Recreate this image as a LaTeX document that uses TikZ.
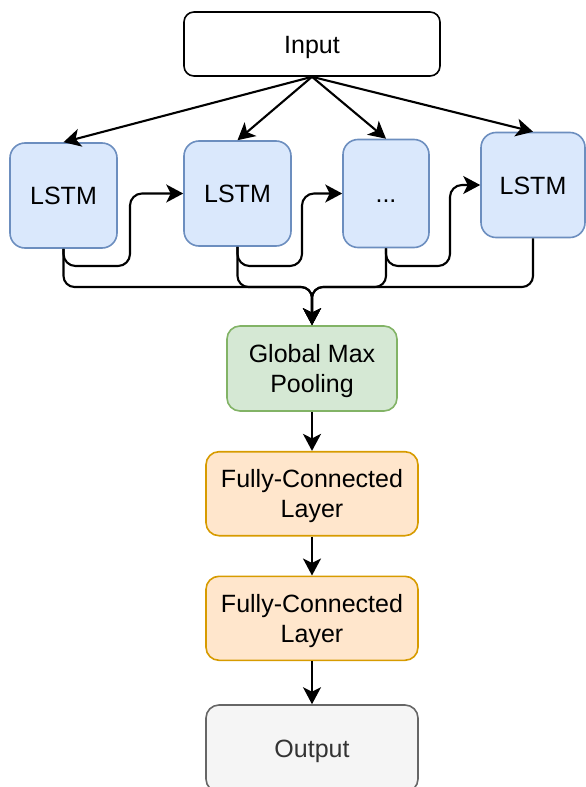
\documentclass[tikz,border=0pt]{standalone}
\usepackage{fontspec}
\setmainfont{Liberation Sans}
\usetikzlibrary{arrows.meta}
\definecolor{bluefill}{HTML}{DAE8FC}
\definecolor{blueline}{HTML}{6C8EBF}
\definecolor{greenfill}{HTML}{D5E8D4}
\definecolor{greenline}{HTML}{82B366}
\definecolor{orangefill}{HTML}{FFE6CC}
\definecolor{orangeline}{HTML}{D79B00}
\definecolor{grayfill}{HTML}{F5F5F5}
\definecolor{grayline}{HTML}{666666}
\definecolor{graytext}{HTML}{333333}
\begin{document}
\begin{tikzpicture}[x=1pt,y=-1pt,
  box/.style={draw, line width=1.6pt, inner sep=0pt, align=center,
    font={\fontsize{25}{30}\selectfont}, text height=18pt, text depth=0pt},
  twoline/.style={text height=48pt, text depth=0pt},
  inbox/.style={box, fill=white, draw=black, rounded corners=10pt},
  lstmbox/.style={box, fill=bluefill, draw=blueline, rounded corners=15pt},
  poolbox/.style={box, fill=greenfill, draw=greenline, rounded corners=13pt},
  fcbox/.style={box, fill=orangefill, draw=orangeline, rounded corners=13pt},
  outbox/.style={box, fill=grayfill, draw=grayline, text=graytext, rounded corners=13pt},
  conn/.style={draw=black, line width=2.1pt, -{Stealth[length=17pt,width=18pt,inset=4.5pt]}},
]
\useasboundingbox (0,0) rectangle (586,787);
\clip (0,0) rectangle (586,787);

\node[inbox, minimum width=256pt, minimum height=64pt] (I) at (312,44) {Input};
\node[lstmbox, minimum width=107pt, minimum height=105pt] (L1) at (63.5,195.5) {LSTM};
\node[lstmbox, minimum width=107pt, minimum height=105pt] (L2) at (237.5,193.5) {LSTM};
\node[lstmbox, minimum width=86pt, minimum height=108pt] (D) at (386,193.5) {...};
\node[lstmbox, minimum width=104pt, minimum height=105pt] (L4) at (533,185) {LSTM};
\node[poolbox, twoline, minimum width=170pt, minimum height=85pt] (G) at (312,368.5) {Global Max\\Pooling};
\node[fcbox, twoline, minimum width=212pt, minimum height=84pt] (F1) at (312,493.7) {Fully-Connected\\Layer};
\node[fcbox, twoline, minimum width=212pt, minimum height=84pt] (F2) at (312,618.3) {Fully-Connected\\Layer};
\node[outbox, minimum width=212pt, minimum height=87pt] (O) at (312,748.5) {Output};

% input fan-out
\draw[conn] (I.south) -- (L1.north);
\draw[conn] (I.south) -- (L2.north);
\draw[conn] (I.south) -- (D.north);
\draw[conn] (I.south) -- (L4.north);

% recurrent links
\coordinate (r1) at (130,266);
\coordinate (r2) at (302,266);
\coordinate (r3) at (450,266);
\draw[conn, rounded corners=12pt] (L1.south) |- (r1) |- (L2.west);
\draw[conn, rounded corners=12pt] (L2.south) |- (r2) |- (D.west);
\draw[conn, rounded corners=12pt] (D.south) |- (r3) |- (L4.west);

% merge into pooling
\coordinate (m) at (312,287);
\draw[conn, rounded corners=11pt] (L1.south) |- (m) -- (G.north);
\draw[conn, rounded corners=11pt] (L2.south) |- (m) -- (G.north);
\draw[conn, rounded corners=11pt] (D.south) |- (m) -- (G.north);
\draw[conn, rounded corners=11pt] (L4.south) |- (m) -- (G.north);

% stack
\draw[conn] (G.south) -- (F1.north);
\draw[conn] (F1.south) -- (F2.north);
\draw[conn] (F2.south) -- (O.north);
\end{tikzpicture}
\end{document}
